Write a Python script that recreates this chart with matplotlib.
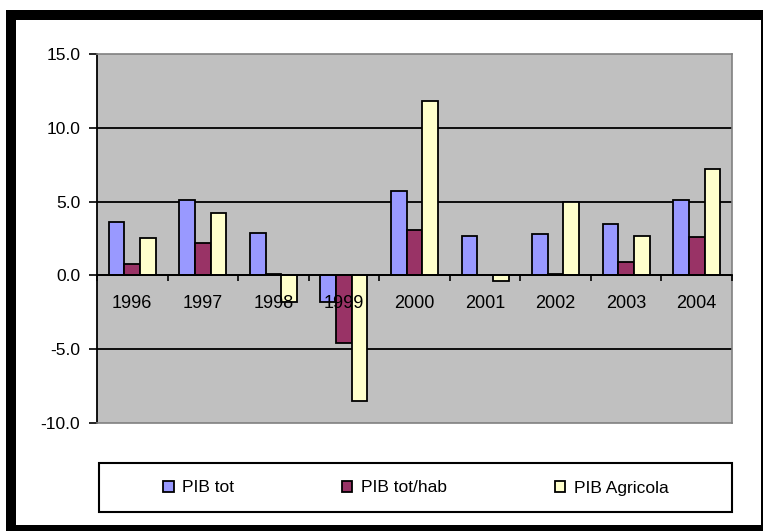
import numpy as np
import matplotlib.pyplot as plt
from matplotlib.patches import Rectangle

# Datos (tasas de crecimiento, %)
years = ["1996", "1997", "1998", "1999", "2000", "2001", "2002", "2003", "2004"]
pib_tot = [3.6, 5.1, 2.9, -1.8, 5.7, 2.7, 2.8, 3.5, 5.1]
pib_hab = [0.8, 2.2, 0.1, -4.6, 3.1, 0.0, 0.1, 0.9, 2.6]
pib_agr = [2.5, 4.2, -1.8, -8.5, 11.8, -0.4, 4.95, 2.7, 7.2]
series_names = ["PIB tot", "PIB tot/hab", "PIB Agricola"]
colors = ["#9999FF", "#993366", "#FFFFCC"]

plt.rcParams['font.family'] = ['Liberation Sans', 'DejaVu Sans']

W, H = 764, 531
fig = plt.figure(figsize=(W / 100, H / 100), dpi=100)

# marco negro con sombra
fig.patches.append(Rectangle((6 / W, 0), 757 / W, 521 / H, transform=fig.transFigure,
                             facecolor="black", edgecolor="none", zorder=-10))
fig.patches.append(Rectangle((16 / W, 6 / H), 745 / W, 505 / H, transform=fig.transFigure,
                             facecolor="white", edgecolor="none", zorder=-9))
# caja de la leyenda
fig.patches.append(Rectangle((99 / W, 19 / H), 633 / W, 49 / H, transform=fig.transFigure,
                             facecolor="white", edgecolor="black", linewidth=1.5, zorder=-8))

ax = fig.add_axes([97 / W, 108 / H, 635 / W, 369 / H])
ax.set_facecolor("#C0C0C0")

n = len(years)
x = np.arange(n)
bw = 1 / 4.5
data = [pib_tot, pib_hab, pib_agr]
for i, (vals, name, c) in enumerate(zip(data, series_names, colors)):
    ax.bar(x + (i - 1) * bw, vals, bw, color=c, edgecolor="black", linewidth=1.3,
           label=name, zorder=3)

ax.set_xlim(-0.5, n - 0.5)
ax.set_ylim(-10, 15)
yt = np.arange(-10, 16, 5)
ax.set_yticks(yt, labels=[f"{v:.1f}" for v in yt])
ax.tick_params(axis='y', length=6, width=1.2, labelsize=12.5, pad=6)
ax.set_xticks([])

ax.yaxis.grid(True, color="black", linewidth=1.3)
ax.set_axisbelow(True)
gl = ax.get_ygridlines()
gl[0].set_visible(False)
gl[-1].set_visible(False)

for s in ["top", "right", "bottom"]:
    ax.spines[s].set_color("#808080")
    ax.spines[s].set_linewidth(1.2)
ax.spines["left"].set_linewidth(1.3)

# eje de categorías en y = 0
sec = ax.secondary_xaxis(0.4)
sec.set_zorder(10)
sec.set_xticks(x, labels=years)
sec.set_xticks(np.arange(n + 1) - 0.5, minor=True)
sec.tick_params(which='major', length=0, pad=14, labelsize=13)
sec.tick_params(which='minor', length=4, width=1.2, direction='out')
sec.spines["bottom"].set_linewidth(1.3)

leg = fig.legend(loc="center", bbox_to_anchor=(416 / W, 43 / H),
                 ncol=3, frameon=False, fontsize=12.5, handlelength=0.6,
                 handleheight=0.6, handletextpad=0.5, columnspacing=6.2)

fig.savefig("out.png", dpi=100)
